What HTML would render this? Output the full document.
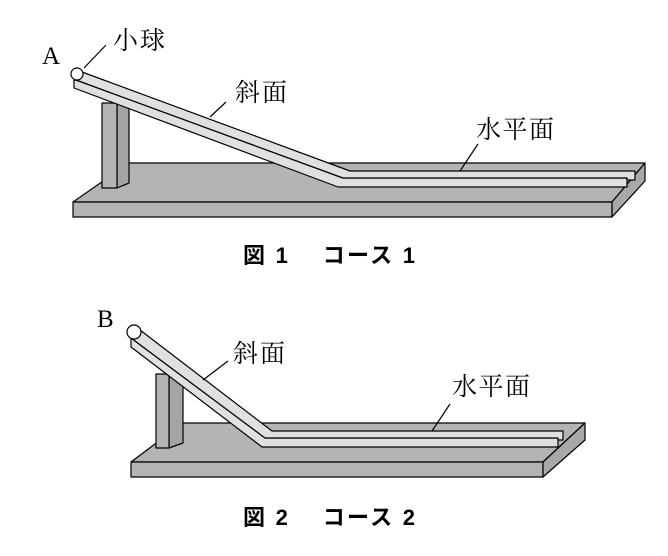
<!DOCTYPE html>
<html><head><meta charset="utf-8"><style>
body{margin:0;background:#fff}
svg{display:block}
.t{font-family:"Liberation Serif","Noto Serif CJK SC",serif;font-size:25px;fill:#000}
.c{font-family:"Liberation Sans","Noto Sans CJK JP",sans-serif;font-size:22px;font-weight:bold;fill:#000}
</style></head><body>
<svg width="668" height="556" viewBox="0 0 668 556" xmlns="http://www.w3.org/2000/svg" stroke="#000" stroke-width="1.2" stroke-linejoin="round">
<polygon points="73,202 129,163 645,163 612,202" fill="#b4b4b4"/>
<polygon points="73,202 612,202 612,217 73,217" fill="#b4b4b4"/>
<polygon points="612,202 645,163 645,181 612,217" fill="#a8a8a8"/>
<polygon points="117,103 129,98 129,183 117,188" fill="#a4a4a4"/>
<rect x="102" y="103" width="15" height="85" fill="#b4b4b4"/>
<polygon points="76,80 343,178 627,178 627,187 338,187 74,88 74,80" fill="#e0e0e0"/>
<polygon points="82,72 350,171 635,171 635,180 627,180 627,178 343,178 76,80 74,80" fill="#e0e0e0"/>
<circle cx="77" cy="74" r="6" fill="#fff"/>
<line x1="84" y1="68" x2="106" y2="45"/>
<line x1="210" y1="117" x2="226" y2="102"/>
<line x1="460" y1="171" x2="478" y2="144"/>
<g stroke="none">
<text class="t" x="42" y="64">A</text>
<text class="t" x="113" y="49" textLength="52">小球</text>
<text class="t" x="235" y="101" textLength="52">斜面</text>
<text class="t" x="476" y="138" textLength="78">水平面</text>
<text class="c" x="243" y="263" textLength="172" lengthAdjust="spacing">図 1　 コース 1</text>
</g>
<polygon points="131,462 183,423 585,423 543,462" fill="#b4b4b4"/>
<polygon points="131,462 543,462 543,477 131,477" fill="#b4b4b4"/>
<polygon points="543,462 585,423 585,440 543,477" fill="#a8a8a8"/>
<polygon points="169,374 183,369 183,443 169,448" fill="#a4a4a4"/>
<rect x="156" y="374" width="13" height="74" fill="#b4b4b4"/>
<polygon points="131,338 265,438 558,438 558,447 262,447 131,347" fill="#e0e0e0"/>
<polygon points="140,330 272,431 563,431 563,440 558,440 558,438 265,438 131,338" fill="#e0e0e0"/>
<circle cx="134" cy="332" r="7" fill="#fff"/>
<line x1="203" y1="380" x2="228" y2="361"/>
<line x1="432" y1="431" x2="450" y2="404"/>
<g stroke="none">
<text class="t" x="97" y="327">B</text>
<text class="t" x="233" y="362" textLength="52">斜面</text>
<text class="t" x="452" y="395" textLength="78">水平面</text>
<text class="c" x="243" y="525" textLength="172" lengthAdjust="spacing">図 2　 コース 2</text>
</g>
</svg>
</body></html>
